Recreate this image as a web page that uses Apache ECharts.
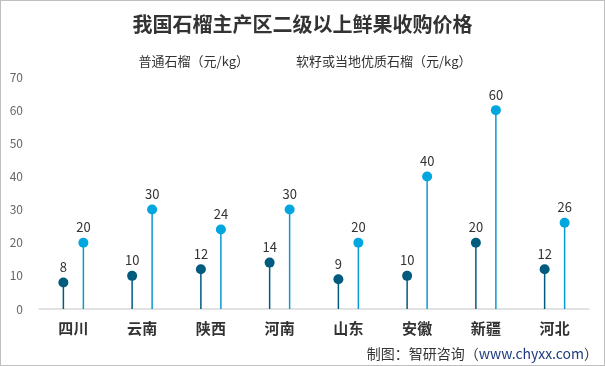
<!DOCTYPE html>
<html><head><meta charset="utf-8">
<script src="https://cdn.jsdelivr.net/npm/echarts@6/dist/echarts.min.js"></script>
<style>html,body{margin:0;padding:0;background:#fff}#c{width:605px;height:366px;box-sizing:border-box;border:1px solid #bfbfbf}</style>
</head><body><div id="c"></div>
<script>
var categories = ['四川','云南','陕西','河南','山东','安徽','新疆','河北'];
var normalPrice = [8,10,12,14,9,10,20,12];
var premiumPrice = [20,30,24,30,20,40,60,26];
var seriesNames = ['普通石榴（元/kg）','软籽或当地优质石榴（元/kg）'];
var yTicks = {min:0, max:70, interval:10};

var dark = '#005b7f', light = '#00a6de';
var chart = echarts.init(document.getElementById('c'));
var font = '"Noto Sans CJK SC", "Noto Sans", sans-serif';
chart.setOption({
  animation:false,
  textStyle:{fontFamily:font},
  title:{text:'我国石榴主产区二级以上鲜果收购价格', left:'center', top:8,
    textStyle:{fontFamily:'"Noto Sans CJK SC"', fontSize:20, fontWeight:'bold', color:'#333'}},
  legend:{top:48, left:'center', itemGap:42, icon:'none', itemWidth:0,
    data:seriesNames, textStyle:{fontSize:13, color:'#333'}},
  grid:{left:38, right:15, top:76, bottom:56},
  xAxis:{type:'category', data:categories,
    axisLine:{lineStyle:{color:'#d9d9d9', width:1.5}}, axisTick:{show:false},
    axisLabel:{fontSize:15, fontWeight:'bold', color:'#333', margin:12}},
  yAxis:{type:'value', min:yTicks.min, max:yTicks.max, interval:yTicks.interval,
    splitLine:{show:false}, axisLine:{show:false},
    axisLabel:{color:'#666', fontSize:12, margin:16}},
  graphic:[{type:'text', right:6, bottom:4,
    style:{rich:{a:{fill:'#333',fontSize:14,fontFamily:font},b:{fill:'#1f3b80',fontSize:14,fontFamily:font}},
      text:'{a|制图：智研咨询（}{b|www.chyxx.com}{a|）}'}}],
  series:[
    {name:seriesNames[0], type:'bar', data:normalPrice, barWidth:1.5, barGap:'1233%', itemStyle:{color:dark}},
    {name:seriesNames[1], type:'bar', data:premiumPrice, barWidth:1.5, barGap:'1233%', itemStyle:{color:'#0a9ad2'}},
    {name:seriesNames[0], type:'scatter', data:normalPrice, symbolSize:10, symbolOffset:[-10,0],
      itemStyle:{color:dark, opacity:1}, label:{show:true, position:'top', distance:4, color:'#333', fontSize:13}},
    {name:seriesNames[1], type:'scatter', data:premiumPrice, symbolSize:10, symbolOffset:[10,0],
      itemStyle:{color:light, opacity:1}, label:{show:true, position:'top', distance:4, color:'#333', fontSize:13}}
  ]
});
</script></body></html>
